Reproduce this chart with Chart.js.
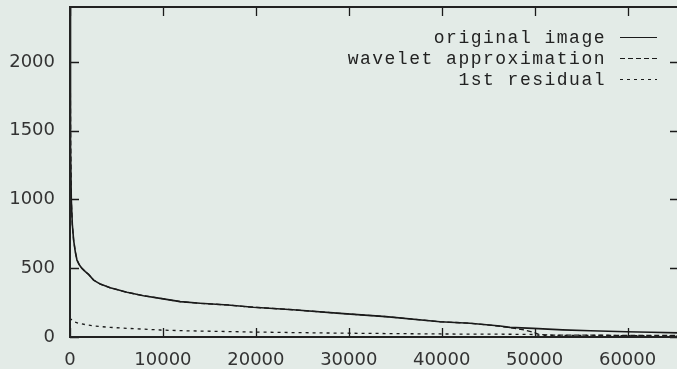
<!DOCTYPE html>
<html>
<head>
<meta charset="utf-8">
<script src="https://cdn.jsdelivr.net/npm/chart.js@4/dist/chart.umd.min.js"></script>
<style>
  html, body { margin: 0; padding: 0; width: 677px; height: 369px; overflow: hidden; background: #e3ebe7; }
  #wrap { width: 690px; height: 369px; }
</style>
</head>
<body>
<div id="wrap"><canvas id="c" width="690" height="369"></canvas></div>
<script>
// ---- data ----
const originalX = [0, 30, 80, 140, 250, 390, 570, 750, 1000, 1290, 1650, 2000, 2540, 3260, 4330, 6130, 7910, 9710, 11860, 14000, 17000, 19740, 24000, 29060, 34000, 39810, 43040, 46290, 47340, 49850, 53000, 56000, 59890, 62500, 65536];
const originalY = [3000, 1900, 1400, 1000, 820, 705, 620, 560, 525, 499, 475, 455, 414, 385, 358, 325, 300, 281, 257, 245, 233, 216, 198, 172, 148, 111, 100, 80, 70, 63, 52, 45, 38, 34, 30];

const waveletX = [0, 30, 80, 140, 250, 390, 570, 750, 1000, 1290, 1650, 2000, 2540, 3260, 4330, 6130, 7910, 9710, 11860, 14000, 17000, 19740, 24000, 29060, 34000, 39810, 43040, 45500, 47340, 48900, 50000, 50500, 52000, 56000, 60000, 65536];
const waveletY = [3000, 1900, 1400, 1000, 820, 705, 620, 560, 525, 499, 475, 455, 414, 385, 358, 325, 300, 281, 257, 245, 233, 216, 198, 172, 148, 111, 100, 84, 68, 51, 31, 18, 14, 13, 12, 11];

const residualX = [0, 100, 390, 1000, 2540, 4330, 6130, 9710, 11860, 19740, 29060, 39810, 47340, 50000, 50500, 56000, 65536];
const residualY = [140, 130, 111, 98, 80, 70, 63, 51, 46, 36, 28, 22, 20, 18, 12, 11, 10];

const seriesLabels = ["original image", "wavelet approximation", "1st residual"];
const xTickValues = [0, 10000, 20000, 30000, 40000, 50000, 60000];
const yTickValues = [0, 500, 1000, 1500, 2000];
const xMax = 65536;
const yMax = 2400;

const toPoints = (xs, ys) => xs.map((x, i) => ({ x: x, y: ys[i] }));

const INK = '#1a1a1a';

const framePlugin = {
  id: 'frame',
  afterDatasetsDraw(chart) {
    const { ctx, chartArea: a, scales } = chart;
    ctx.save();
    ctx.strokeStyle = INK;
    ctx.lineWidth = 1.3;
    const tl = 9;
    scales.x.ticks.forEach(t => {
      const px = Math.round(scales.x.getPixelForValue(t.value)) + 0.5;
      ctx.beginPath();
      ctx.moveTo(px, a.bottom); ctx.lineTo(px, a.bottom - tl);
      ctx.moveTo(px, a.top); ctx.lineTo(px, a.top + tl);
      ctx.stroke();
    });
    scales.y.ticks.forEach(t => {
      const py = Math.round(scales.y.getPixelForValue(t.value)) + 0.5;
      ctx.beginPath();
      ctx.moveTo(a.left, py); ctx.lineTo(a.left + tl, py);
      ctx.moveTo(a.right, py); ctx.lineTo(a.right - tl, py);
      ctx.stroke();
    });
    ctx.lineWidth = 2;
    ctx.strokeStyle = '#222';
    ctx.strokeRect(a.left, a.top, a.right - a.left, a.bottom - a.top);
    ctx.restore();
  }
};

const legendPlugin = {
  id: 'gpLegend',
  afterDraw(chart) {
    const { ctx } = chart;
    const textRight = 606, sx0 = 620, sx1 = 657;
    const rows = [37, 58, 79];
    ctx.save();
    ctx.font = '18px "Liberation Mono", monospace';
    try { ctx.letterSpacing = '1.5px'; } catch (e) {}
    ctx.fillStyle = '#222';
    ctx.textAlign = 'right';
    ctx.textBaseline = 'middle';
    chart.data.datasets.forEach((ds, i) => {
      const y = rows[i];
      ctx.fillText(ds.label, textRight, y + 1);
      ctx.beginPath();
      ctx.setLineDash(ds.borderDash || []);
      ctx.strokeStyle = ds.borderColor;
      ctx.lineWidth = 1.2;
      ctx.moveTo(sx0, y + 0.5); ctx.lineTo(sx1, y + 0.5);
      ctx.stroke();
    });
    ctx.restore();
  }
};

const plainLabel = v => String(v);

new Chart(document.getElementById('c'), {
  type: 'line',
  data: {
    datasets: [
      { label: seriesLabels[0], data: toPoints(originalX, originalY), borderColor: INK, borderWidth: 1.6, borderDash: [], pointRadius: 0, tension: 0, fill: false },
      { label: seriesLabels[1], data: toPoints(waveletX, waveletY), borderColor: INK, borderWidth: 1.3, borderDash: [5, 3], pointRadius: 0, tension: 0, fill: false },
      { label: seriesLabels[2], data: toPoints(residualX, residualY), borderColor: INK, borderWidth: 1.3, borderDash: [3, 4], pointRadius: 0, tension: 0, fill: false }
    ]
  },
  options: {
    responsive: false,
    animation: false,
    devicePixelRatio: 1,
    layout: { padding: { top: 7, right: 11, left: 0, bottom: 0 } },
    plugins: { legend: { display: false }, tooltip: { enabled: false } },
    scales: {
      x: {
        type: 'linear', min: 0, max: xMax,
        grid: { display: false, drawTicks: false },
        border: { display: false },
        ticks: { padding: 13, color: '#333', font: { family: '"DejaVu Sans", sans-serif', size: 18 }, maxRotation: 0, autoSkip: false, callback: plainLabel },
        afterBuildTicks(s) { s.ticks = xTickValues.map(v => ({ value: v })); },
        afterFit(s) { s.height = 32; s.paddingLeft = 0; s.paddingRight = 0; }
      },
      y: {
        type: 'linear', min: 0, max: yMax,
        grid: { display: false, drawTicks: false },
        border: { display: false },
        ticks: { padding: 15, color: '#333', font: { family: '"DejaVu Sans", sans-serif', size: 18 }, autoSkip: false, callback: plainLabel },
        afterBuildTicks(s) { s.ticks = yTickValues.map(v => ({ value: v })); },
        afterFit(s) { s.width = 70; s.paddingTop = 0; s.paddingBottom = 0; }
      }
    }
  },
  plugins: [framePlugin, legendPlugin]
});
</script>
</body>
</html>
